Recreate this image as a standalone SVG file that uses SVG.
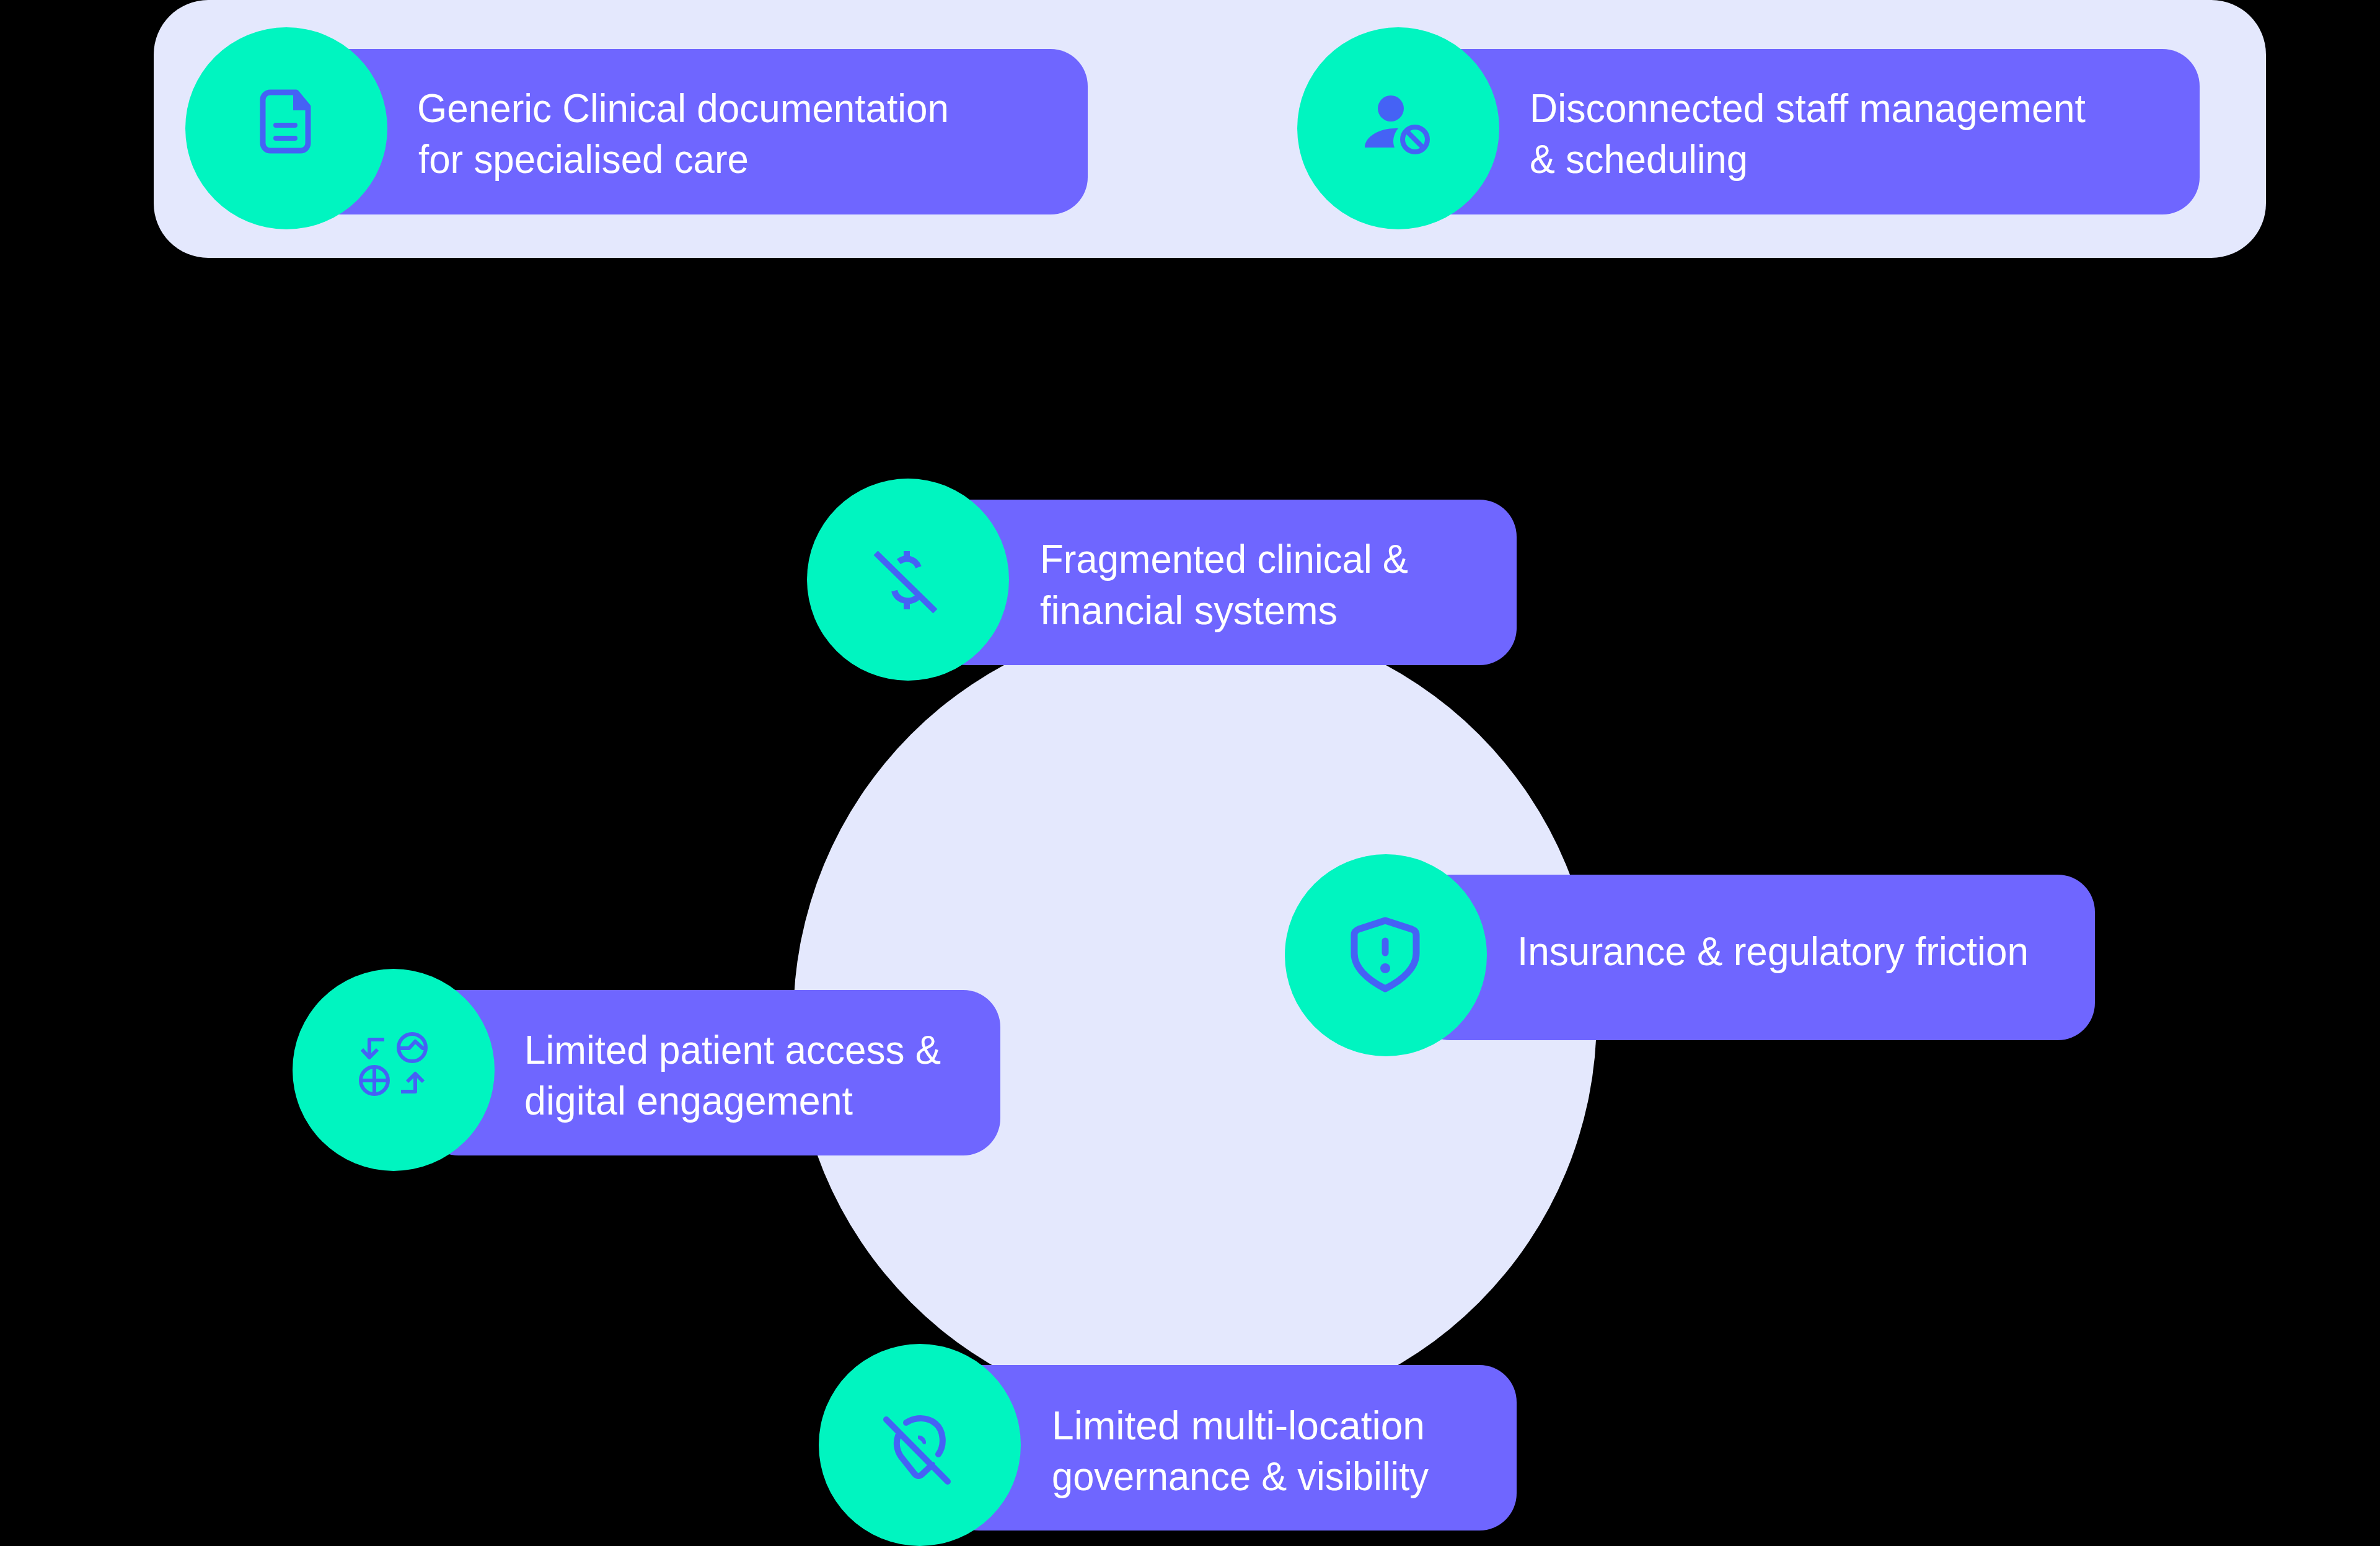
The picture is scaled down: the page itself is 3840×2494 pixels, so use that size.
<svg xmlns="http://www.w3.org/2000/svg" width="3840" height="2494" viewBox="0 0 3840 2494">
<style>
.pill{fill:#6f66ff}.dot{fill:#00f5c0}.bg{fill:#e4e8fd}
.t{font-family:"Liberation Sans",Arial,sans-serif;font-size:65px;fill:#fff}
.i{fill:none;stroke:#4562f5;stroke-width:8;stroke-linecap:round;stroke-linejoin:round}
.f{fill:#4562f5;stroke:none}
</style>
<rect width="3840" height="2494" fill="#000"/>
<rect id="panel" class="bg" x="248" y="0" width="3408" height="416" rx="88"/>
<circle id="hub" class="bg" cx="1928" cy="1643" r="648"/>
<g id="connectors"/>
<g id="n1"><rect class="pill" x="480" y="79" width="1275" height="267" rx="60"/><circle class="dot" cx="462" cy="207" r="163"/>
<path class="i" style="stroke-width:9" d="M478 149H436a12 12 0 0 0-12 12v70a12 12 0 0 0 12 12h49a12 12 0 0 0 12-12V172z"/><path class="f" d="M473 146h7l21 26v6h-28z"/><path class="i" d="M445 202h31M445 223h31"/>
<text class="t" x="673" y="197" textLength="858" lengthAdjust="spacingAndGlyphs">Generic Clinical documentation</text><text class="t" x="675" y="279" textLength="533" lengthAdjust="spacingAndGlyphs">for specialised care</text></g>
<g id="n2"><rect class="pill" x="2270" y="79" width="1279" height="267" rx="60"/><circle class="dot" cx="2256" cy="207" r="163"/>
<circle class="f" cx="2244" cy="175" r="21"/><path class="f" d="M2202 238c0-18 24-31 50-31h4c-8 9-10 22-6 31z"/><circle class="i" cx="2283" cy="225" r="20"/><path class="i" d="M2270 212l27 27"/>
<text class="t" x="2468" y="197" textLength="897" lengthAdjust="spacingAndGlyphs">Disconnected staff management</text><text class="t" x="2468" y="279" textLength="352" lengthAdjust="spacingAndGlyphs">&amp; scheduling</text></g>
<g id="n3"><rect class="pill" x="1500" y="806" width="947" height="267" rx="60"/><circle class="dot" cx="1465" cy="935" r="163"/>
<path class="i" style="stroke-linecap:butt;stroke-width:10" d="M1413 892L1509 986M1450 906c12-9 27-4 32 9M1443 953c4 16 24 21 37 11M1463 889v17M1463 968v15"/>
<text class="t" x="1678" y="924" textLength="594" lengthAdjust="spacingAndGlyphs">Fragmented clinical &amp;</text><text class="t" x="1678" y="1007" textLength="480" lengthAdjust="spacingAndGlyphs">financial systems</text></g>
<g id="n4"><rect class="pill" x="2280" y="1411" width="1100" height="267" rx="60"/><circle class="dot" cx="2236" cy="1541" r="163"/>
<path class="i" style="stroke-width:11" d="M2235 1485l43 14c5 2 7 5 7 9v30c0 22-20 42-50 57-30-15-50-35-50-57v-30c0-4 2-7 7-9z"/><path class="i" style="stroke-width:11" d="M2235 1518v19"/><circle class="f" cx="2235" cy="1562" r="8"/>
<text class="t" x="2448" y="1557" textLength="825" lengthAdjust="spacingAndGlyphs">Insurance &amp; regulatory friction</text></g>
<g id="n5"><rect class="pill" x="680" y="1597" width="934" height="267" rx="60"/><circle class="dot" cx="635" cy="1726" r="163"/>
<g class="i" style="stroke-width:6;stroke-linecap:butt"><circle cx="665" cy="1690" r="22"/><path d="M643 1691h17l10-11 12 11h5"/><circle cx="604" cy="1743" r="22"/><path d="M582 1743h44M604 1721v44"/><path d="M620 1677h-24v30M584 1693l12 13 13-13M647 1761h23v-30M657 1745l13-13 13 13"/></g>
<text class="t" x="846" y="1716" textLength="672" lengthAdjust="spacingAndGlyphs">Limited patient access &amp;</text><text class="t" x="846" y="1798" textLength="530" lengthAdjust="spacingAndGlyphs">digital engagement</text></g>
<g id="n6"><rect class="pill" x="1520" y="2202" width="927" height="267" rx="60"/><circle class="dot" cx="1484" cy="2331" r="163"/>
<path class="i" style="stroke-width:10" d="M1430 2290l99 100M1462 2295c16-10 36-9 48 2 12 10 15 34 4 49M1449 2316c-5 14-1 28 8 38l19 24c4 4 8 4 12 0l16-15"/><path class="f" d="M1481 2316c6-2 14 5 13 12l-1 2-4-1c-1-3-3-5-8-8z"/>
<text class="t" x="1697" y="2322" textLength="602" lengthAdjust="spacingAndGlyphs">Limited multi-location</text><text class="t" x="1697" y="2404" textLength="608" lengthAdjust="spacingAndGlyphs">governance &amp; visibility</text></g>
</svg>
